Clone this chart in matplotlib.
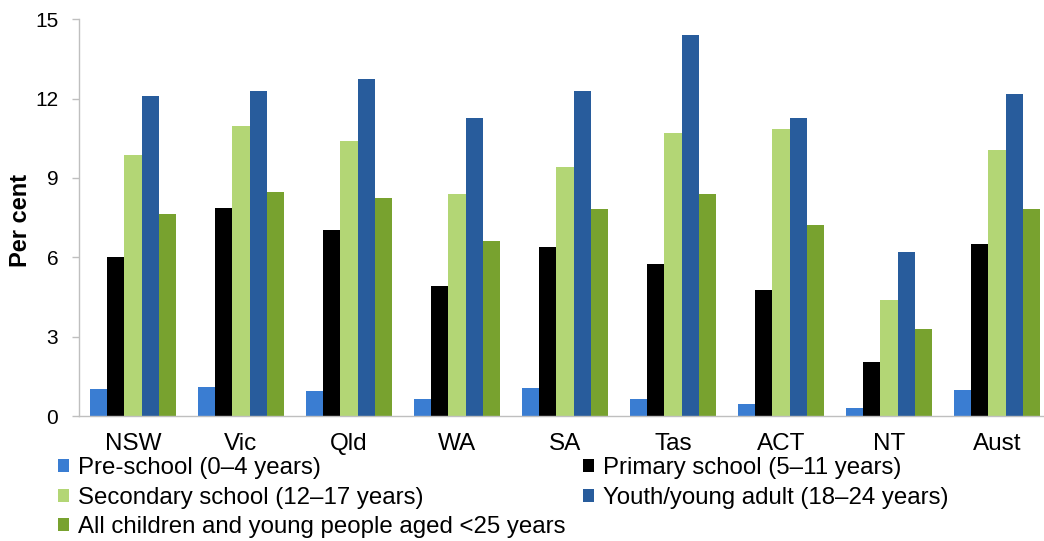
import matplotlib
matplotlib.use("Agg")
import matplotlib.pyplot as plt
import numpy as np

plt.rcParams['font.family'] = ['Liberation Sans', 'DejaVu Sans']

categories = ["NSW", "Vic", "Qld", "WA", "SA", "Tas", "ACT", "NT", "Aust"]
series_names = [
    "Pre-school (0\u20134 years)",
    "Primary school (5\u201311 years)",
    "Secondary school (12\u201317 years)",
    "Youth/young adult (18\u201324 years)",
    "All children and young people aged <25 years",
]
pre_school = [1.02, 1.08, 0.94, 0.65, 1.06, 0.65, 0.45, 0.30, 0.97]
primary = [6.02, 7.87, 7.03, 4.91, 6.40, 5.76, 4.75, 2.03, 6.50]
secondary = [9.87, 10.97, 10.40, 8.39, 9.41, 10.70, 10.86, 4.37, 10.04]
youth = [12.11, 12.28, 12.74, 11.26, 12.30, 14.40, 11.26, 6.21, 12.16]
all_young = [7.64, 8.48, 8.24, 6.60, 7.81, 8.39, 7.22, 3.30, 7.82]
yticks = [0, 3, 6, 9, 12, 15]

colors = ["#3A7DD2", "#000000", "#B3D675", "#285C9C", "#78A22F"]
data = [pre_school, primary, secondary, youth, all_young]

W, H = 1044, 541
fig = plt.figure(figsize=(W / 100, H / 100), dpi=100)
ax = fig.add_axes([79 / W, (H - 416) / H, 972 / W, (416 - 19.3) / H])

x = np.arange(len(categories))
bw = 0.158
handles = []
for i, (vals, c) in enumerate(zip(data, colors)):
    b = ax.bar(x + (i - 2) * bw, vals, width=bw, color=c, label=series_names[i],
               linewidth=0)
    handles.append(b)

ax.set_xlim(-0.5, len(categories) - 0.5)
ax.set_ylim(0, 15)
ax.set_yticks(yticks)
ax.set_xticks(x)
ax.set_xticklabels(categories, fontsize=17.5)
ax.tick_params(axis='x', length=0, pad=12)
ax.tick_params(axis='y', labelsize=15, length=5, width=1, color='#BFBFBF',
               direction='out', pad=10)
for s in ['top', 'right']:
    ax.spines[s].set_visible(False)
for s in ['left', 'bottom']:
    ax.spines[s].set_color('#BFBFBF')
    ax.spines[s].set_linewidth(1.0)

fig.text(21 / W, 1 - 220 / H, "Per cent", rotation=90, fontsize=17,
         fontweight='bold', ha='center', va='center')

order = [0, 2, 4, 1, 3]
leg = fig.legend([handles[i] for i in order], [series_names[i] for i in order],
                 loc='upper left', bbox_to_anchor=(58 / W, 1 - 457 / H),
                 ncol=2, frameon=False, fontsize=17.3, handlelength=0.45,
                 handleheight=0.45, handletextpad=0.4, labelspacing=0.32,
                 columnspacing=0.7, borderpad=0, borderaxespad=0)

fig.savefig("out.png", dpi=100)
